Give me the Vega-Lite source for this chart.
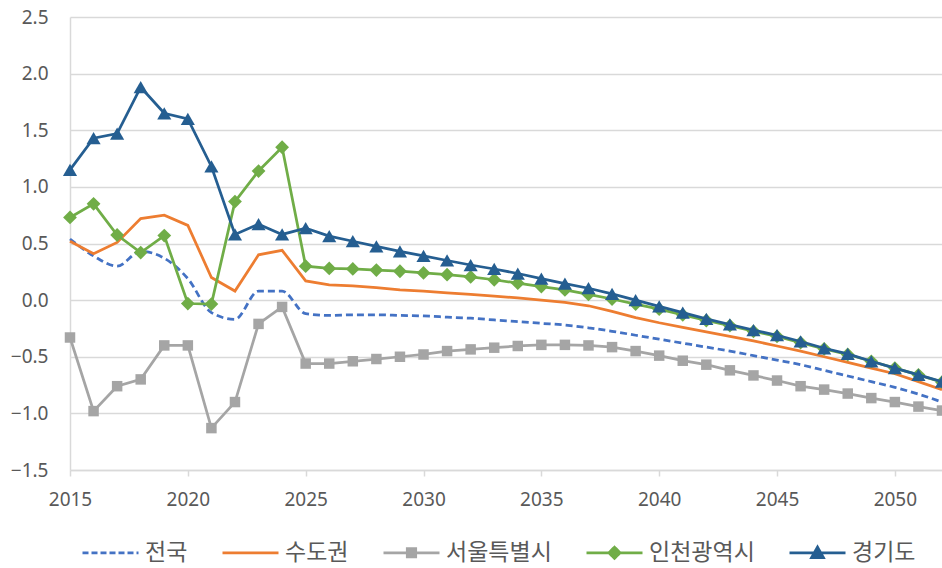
{
  "$schema": "https://vega.github.io/schema/vega-lite/v6.json",
  "autosize": {"type": "none"},
  "width": 872,
  "height": 453,
  "padding": {"left": 70, "top": 17, "right": 0, "bottom": 98},
  "background": "white",
  "config": {"view": {"stroke": null}},
  "datasets": {
    "rows": [
      {"year":2015,"series":"전국","value":0.54},{"year":2016,"series":"전국","value":0.39},{"year":2017,"series":"전국","value":0.30},{"year":2018,"series":"전국","value":0.43},{"year":2019,"series":"전국","value":0.37},{"year":2020,"series":"전국","value":0.19},{"year":2021,"series":"전국","value":-0.11},{"year":2022,"series":"전국","value":-0.17},{"year":2023,"series":"전국","value":0.08},{"year":2024,"series":"전국","value":0.08},{"year":2025,"series":"전국","value":-0.12},{"year":2026,"series":"전국","value":-0.135},{"year":2027,"series":"전국","value":-0.13},{"year":2028,"series":"전국","value":-0.13},{"year":2029,"series":"전국","value":-0.135},{"year":2030,"series":"전국","value":-0.14},{"year":2031,"series":"전국","value":-0.15},{"year":2032,"series":"전국","value":-0.16},{"year":2033,"series":"전국","value":-0.175},{"year":2034,"series":"전국","value":-0.19},{"year":2035,"series":"전국","value":-0.205},{"year":2036,"series":"전국","value":-0.22},{"year":2037,"series":"전국","value":-0.245},{"year":2038,"series":"전국","value":-0.275},{"year":2039,"series":"전국","value":-0.31},{"year":2040,"series":"전국","value":-0.345},{"year":2041,"series":"전국","value":-0.38},{"year":2042,"series":"전국","value":-0.415},{"year":2043,"series":"전국","value":-0.45},{"year":2044,"series":"전국","value":-0.49},{"year":2045,"series":"전국","value":-0.53},{"year":2046,"series":"전국","value":-0.57},{"year":2047,"series":"전국","value":-0.62},{"year":2048,"series":"전국","value":-0.67},{"year":2049,"series":"전국","value":-0.72},{"year":2050,"series":"전국","value":-0.77},{"year":2051,"series":"전국","value":-0.83},{"year":2052,"series":"전국","value":-0.9},
      {"year":2015,"series":"수도권","value":0.52},{"year":2016,"series":"수도권","value":0.41},{"year":2017,"series":"수도권","value":0.51},{"year":2018,"series":"수도권","value":0.72},{"year":2019,"series":"수도권","value":0.75},{"year":2020,"series":"수도권","value":0.66},{"year":2021,"series":"수도권","value":0.20},{"year":2022,"series":"수도권","value":0.08},{"year":2023,"series":"수도권","value":0.40},{"year":2024,"series":"수도권","value":0.44},{"year":2025,"series":"수도권","value":0.17},{"year":2026,"series":"수도권","value":0.135},{"year":2027,"series":"수도권","value":0.125},{"year":2028,"series":"수도권","value":0.11},{"year":2029,"series":"수도권","value":0.09},{"year":2030,"series":"수도권","value":0.08},{"year":2031,"series":"수도권","value":0.065},{"year":2032,"series":"수도권","value":0.05},{"year":2033,"series":"수도권","value":0.035},{"year":2034,"series":"수도권","value":0.02},{"year":2035,"series":"수도권","value":0.0},{"year":2036,"series":"수도권","value":-0.02},{"year":2037,"series":"수도권","value":-0.05},{"year":2038,"series":"수도권","value":-0.1},{"year":2039,"series":"수도권","value":-0.155},{"year":2040,"series":"수도권","value":-0.2},{"year":2041,"series":"수도권","value":-0.24},{"year":2042,"series":"수도권","value":-0.28},{"year":2043,"series":"수도권","value":-0.32},{"year":2044,"series":"수도권","value":-0.36},{"year":2045,"series":"수도권","value":-0.405},{"year":2046,"series":"수도권","value":-0.45},{"year":2047,"series":"수도권","value":-0.5},{"year":2048,"series":"수도권","value":-0.55},{"year":2049,"series":"수도권","value":-0.6},{"year":2050,"series":"수도권","value":-0.65},{"year":2051,"series":"수도권","value":-0.72},{"year":2052,"series":"수도권","value":-0.79},
      {"year":2015,"series":"서울특별시","value":-0.33},{"year":2016,"series":"서울특별시","value":-0.98},{"year":2017,"series":"서울특별시","value":-0.76},{"year":2018,"series":"서울특별시","value":-0.70},{"year":2019,"series":"서울특별시","value":-0.40},{"year":2020,"series":"서울특별시","value":-0.40},{"year":2021,"series":"서울특별시","value":-1.13},{"year":2022,"series":"서울특별시","value":-0.90},{"year":2023,"series":"서울특별시","value":-0.21},{"year":2024,"series":"서울특별시","value":-0.06},{"year":2025,"series":"서울특별시","value":-0.56},{"year":2026,"series":"서울특별시","value":-0.56},{"year":2027,"series":"서울특별시","value":-0.54},{"year":2028,"series":"서울특별시","value":-0.52},{"year":2029,"series":"서울특별시","value":-0.50},{"year":2030,"series":"서울특별시","value":-0.48},{"year":2031,"series":"서울특별시","value":-0.45},{"year":2032,"series":"서울특별시","value":-0.435},{"year":2033,"series":"서울특별시","value":-0.42},{"year":2034,"series":"서울특별시","value":-0.405},{"year":2035,"series":"서울특별시","value":-0.395},{"year":2036,"series":"서울특별시","value":-0.395},{"year":2037,"series":"서울특별시","value":-0.40},{"year":2038,"series":"서울특별시","value":-0.415},{"year":2039,"series":"서울특별시","value":-0.45},{"year":2040,"series":"서울특별시","value":-0.49},{"year":2041,"series":"서울특별시","value":-0.535},{"year":2042,"series":"서울특별시","value":-0.57},{"year":2043,"series":"서울특별시","value":-0.62},{"year":2044,"series":"서울특별시","value":-0.665},{"year":2045,"series":"서울특별시","value":-0.71},{"year":2046,"series":"서울특별시","value":-0.76},{"year":2047,"series":"서울특별시","value":-0.79},{"year":2048,"series":"서울특별시","value":-0.825},{"year":2049,"series":"서울특별시","value":-0.865},{"year":2050,"series":"서울특별시","value":-0.90},{"year":2051,"series":"서울특별시","value":-0.94},{"year":2052,"series":"서울특별시","value":-0.975},
      {"year":2015,"series":"인천광역시","value":0.73},{"year":2016,"series":"인천광역시","value":0.85},{"year":2017,"series":"인천광역시","value":0.575},{"year":2018,"series":"인천광역시","value":0.42},{"year":2019,"series":"인천광역시","value":0.57},{"year":2020,"series":"인천광역시","value":-0.03},{"year":2021,"series":"인천광역시","value":-0.035},{"year":2022,"series":"인천광역시","value":0.87},{"year":2023,"series":"인천광역시","value":1.14},{"year":2024,"series":"인천광역시","value":1.35},{"year":2025,"series":"인천광역시","value":0.30},{"year":2026,"series":"인천광역시","value":0.28},{"year":2027,"series":"인천광역시","value":0.275},{"year":2028,"series":"인천광역시","value":0.265},{"year":2029,"series":"인천광역시","value":0.255},{"year":2030,"series":"인천광역시","value":0.24},{"year":2031,"series":"인천광역시","value":0.225},{"year":2032,"series":"인천광역시","value":0.205},{"year":2033,"series":"인천광역시","value":0.18},{"year":2034,"series":"인천광역시","value":0.15},{"year":2035,"series":"인천광역시","value":0.12},{"year":2036,"series":"인천광역시","value":0.09},{"year":2037,"series":"인천광역시","value":0.05},{"year":2038,"series":"인천광역시","value":0.01},{"year":2039,"series":"인천광역시","value":-0.035},{"year":2040,"series":"인천광역시","value":-0.08},{"year":2041,"series":"인천광역시","value":-0.13},{"year":2042,"series":"인천광역시","value":-0.18},{"year":2043,"series":"인천광역시","value":-0.225},{"year":2044,"series":"인천광역시","value":-0.275},{"year":2045,"series":"인천광역시","value":-0.32},{"year":2046,"series":"인천광역시","value":-0.375},{"year":2047,"series":"인천광역시","value":-0.43},{"year":2048,"series":"인천광역시","value":-0.48},{"year":2049,"series":"인천광역시","value":-0.54},{"year":2050,"series":"인천광역시","value":-0.60},{"year":2051,"series":"인천광역시","value":-0.66},{"year":2052,"series":"인천광역시","value":-0.725},
      {"year":2015,"series":"경기도","value":1.15},{"year":2016,"series":"경기도","value":1.43},{"year":2017,"series":"경기도","value":1.47},{"year":2018,"series":"경기도","value":1.88},{"year":2019,"series":"경기도","value":1.65},{"year":2020,"series":"경기도","value":1.60},{"year":2021,"series":"경기도","value":1.18},{"year":2022,"series":"경기도","value":0.58},{"year":2023,"series":"경기도","value":0.67},{"year":2024,"series":"경기도","value":0.58},{"year":2025,"series":"경기도","value":0.635},{"year":2026,"series":"경기도","value":0.565},{"year":2027,"series":"경기도","value":0.52},{"year":2028,"series":"경기도","value":0.475},{"year":2029,"series":"경기도","value":0.43},{"year":2030,"series":"경기도","value":0.39},{"year":2031,"series":"경기도","value":0.35},{"year":2032,"series":"경기도","value":0.31},{"year":2033,"series":"경기도","value":0.275},{"year":2034,"series":"경기도","value":0.235},{"year":2035,"series":"경기도","value":0.19},{"year":2036,"series":"경기도","value":0.145},{"year":2037,"series":"경기도","value":0.105},{"year":2038,"series":"경기도","value":0.055},{"year":2039,"series":"경기도","value":0.0},{"year":2040,"series":"경기도","value":-0.055},{"year":2041,"series":"경기도","value":-0.11},{"year":2042,"series":"경기도","value":-0.165},{"year":2043,"series":"경기도","value":-0.215},{"year":2044,"series":"경기도","value":-0.265},{"year":2045,"series":"경기도","value":-0.31},{"year":2046,"series":"경기도","value":-0.365},{"year":2047,"series":"경기도","value":-0.425},{"year":2048,"series":"경기도","value":-0.475},{"year":2049,"series":"경기도","value":-0.54},{"year":2050,"series":"경기도","value":-0.60},{"year":2051,"series":"경기도","value":-0.66},{"year":2052,"series":"경기도","value":-0.72}
    ]
  },
  "data": {"name": "rows"},
  "encoding": {
    "x": {
      "field": "year", "type": "quantitative",
      "scale": {"domain": [2015, 2052], "nice": false, "zero": false},
      "axis": {
        "title": null, "values": [2015, 2020, 2025, 2030, 2035, 2040, 2045, 2050], "format": "d",
        "grid": false, "domain": true, "domainColor": "#D9D9D9", "domainWidth": 1.5,
        "ticks": true, "tickSize": 6, "tickColor": "#D9D9D9", "tickWidth": 1.5,
        "labelFont": "Noto Sans", "labelFontSize": 19, "labelColor": "#595959", "labelPadding": 14,
        "labelFlush": false
      }
    },
    "y": {
      "field": "value", "type": "quantitative",
      "scale": {"domain": [-1.5, 2.5], "nice": false, "zero": false},
      "axis": {
        "title": null, "values": [-1.5, -1, -0.5, 0, 0.5, 1, 1.5, 2, 2.5], "format": ".1f",
        "grid": true, "gridColor": "#D9D9D9", "gridWidth": 1.5,
        "domain": true, "domainColor": "#D9D9D9", "domainWidth": 1.5,
        "ticks": false, "labelFont": "Noto Sans", "labelFontSize": 19, "labelColor": "#595959",
        "labelPadding": 22
      }
    },
    "color": {
      "field": "series", "type": "nominal",
      "scale": {
        "domain": ["전국", "수도권", "서울특별시", "인천광역시", "경기도"],
        "range": ["#4472C4", "#ED7D31", "#A5A5A5", "#70AD47", "#255E91"]
      },
      "legend": {
        "orient": "none", "legendX": 11, "legendY": 506, "direction": "horizontal", "columns": 5,
        "title": null, "labelFont": "Noto Sans CJK KR", "labelFontSize": 23, "labelColor": "#595959",
        "symbolSize": 3136, "symbolStrokeWidth": 2.75, "columnPadding": 29, "labelOffset": 5,
        "symbolType": "stroke",
        "encode": {
          "symbols": {
            "update": {
              "shape": {"signal": "datum.value === '서울특별시' ? 'M-1,0H1M-0.15,-0.15H0.15V0.15H-0.15Z' : datum.value === '인천광역시' ? 'M-1,0H1M0,-0.2L0.2,0L0,0.2L-0.2,0Z' : datum.value === '경기도' ? 'M-1,0H1M0,-0.2L0.21,0.17L-0.21,0.17Z' : 'M-1,0H1'"},
              "fill": {"signal": "scale('color', datum.value)"},
              "fillOpacity": {"value": 1},
              "stroke": {"signal": "scale('color', datum.value)"},
              "strokeDash": {"signal": "datum.value === '전국' ? [6, 3] : [1, 0]"}
            }
          }
        }
      }
    }
  },
  "layer": [
    {"transform": [{"filter": "datum.series === '전국'"}],
     "mark": {"type": "line", "interpolate": "monotone", "strokeWidth": 2.75, "strokeDash": [7, 4]}},
    {"transform": [{"filter": "datum.series === '수도권'"}],
     "mark": {"type": "line", "strokeWidth": 2.75}},
    {"transform": [{"filter": "datum.series === '서울특별시'"}],
     "mark": {"type": "line", "strokeWidth": 2.75}},
    {"transform": [{"filter": "datum.series === '서울특별시'"}],
     "mark": {"type": "point", "shape": "square", "filled": true, "opacity": 1, "size": 110}},
    {"transform": [{"filter": "datum.series === '인천광역시'"}],
     "mark": {"type": "line", "strokeWidth": 2.75}},
    {"transform": [{"filter": "datum.series === '인천광역시'"}],
     "mark": {"type": "point", "shape": "diamond", "filled": true, "opacity": 1, "size": 190}},
    {"transform": [{"filter": "datum.series === '경기도'"}],
     "mark": {"type": "line", "strokeWidth": 2.75}},
    {"transform": [{"filter": "datum.series === '경기도'"}],
     "mark": {"type": "point", "shape": "triangle-up", "filled": true, "opacity": 1, "size": 200}}
  ]
}
